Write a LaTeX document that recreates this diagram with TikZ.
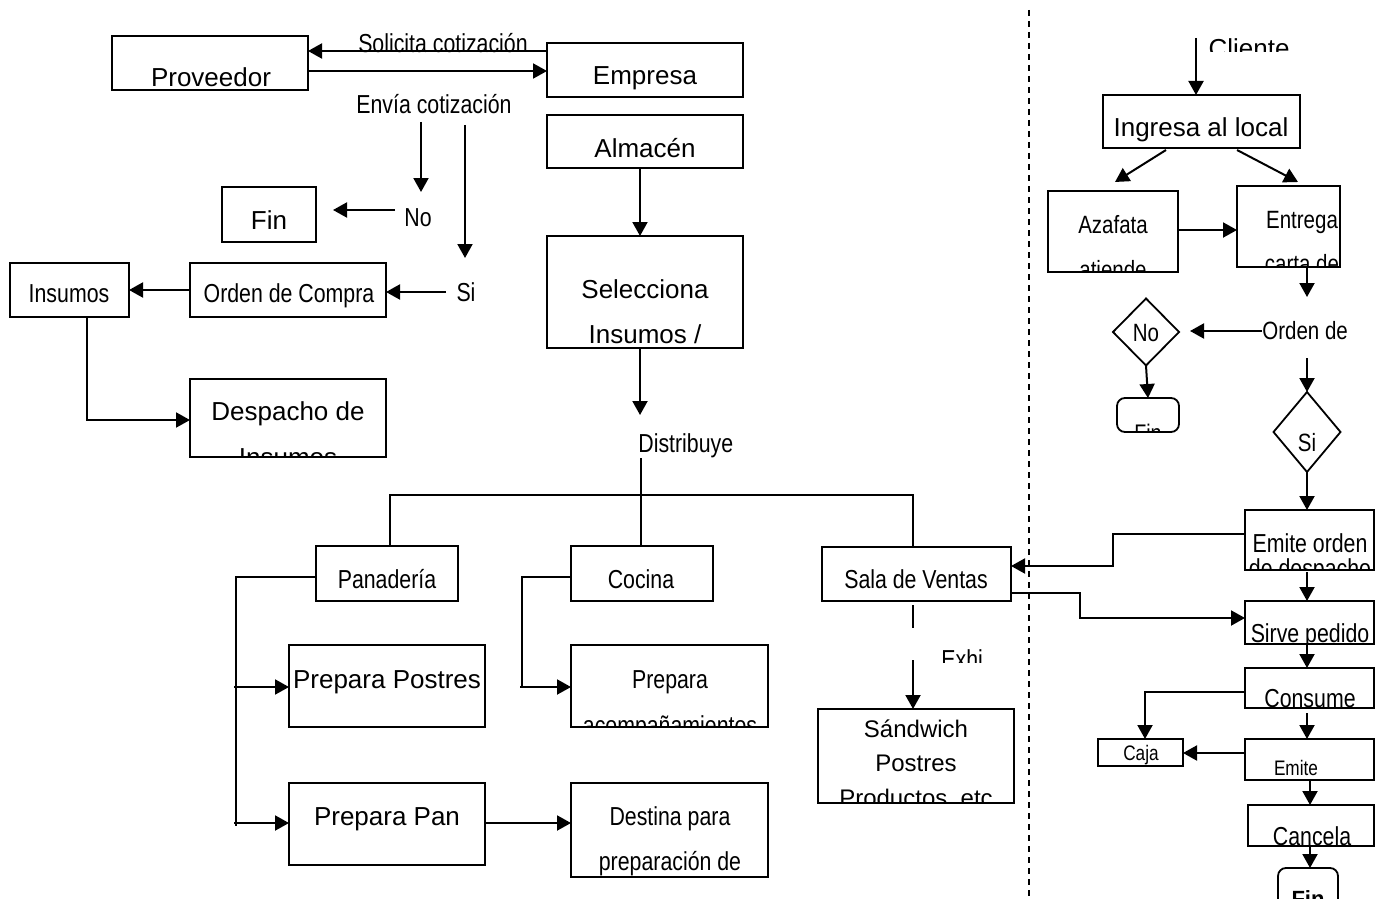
\documentclass[tikz,border=0pt]{standalone}
\usepackage{fontspec}
\setmainfont{Liberation Sans}
\newfontfamily\nar[FakeStretch=0.82]{Liberation Sans}
\usetikzlibrary{arrows.meta,shapes.geometric,calc}
\newcommand\mybox[6][]{\node[box,#1,minimum width={(#5-#3)*0.5pt},minimum height={(#6-#4)*0.5pt}] (#2) at ({(#3+#5)/2},{(#4+#6)/2}) {};}
\begin{document}
\begin{tikzpicture}[x=0.5pt,y=-0.5pt,
  box/.style={draw,line width=0.9pt,inner sep=0pt,outer sep=0pt},
  txt/.style={inner sep=0pt,anchor=base,font=\fontsize{13}{15}\selectfont},
  ntxt/.style={inner sep=0pt,anchor=base,font=\nar\fontsize{13}{15}\selectfont},
  stxt/.style={inner sep=0pt,anchor=base,font=\nar\fontsize{10.5}{12}\selectfont},
  con/.style={line width=1pt},
  arr/.style={line width=1pt,-{Triangle[length=7pt,width=7.5pt]}},
  dia/.style={draw,diamond,line width=0.9pt,inner sep=0pt,outer sep=0pt},
]
\clip (0,0) rectangle (1376,899);
\fill[white] (0,0) rectangle (1376,899);

% ---------- top left ----------
\mybox{prov}{112}{36}{308}{90}
\node[txt] (provt) at (211,87) {Proveedor};
\mybox{emp}{547}{43}{743}{97}
\node[txt] (empt) at (645,85) {Empresa};
\node[ntxt] (sol) at (443,53) {Solicita cotización};
\draw[arr] (emp.west |- 0,51) -- (prov.east |- 0,51);
\draw[arr] (prov.east |- 0,71) -- (emp.west |- 0,71);
\node[ntxt] (env) at (434,113) {Envía cotización};
\coordinate (a1s) at (421,122); \coordinate (a1e) at (421,192);
\draw[arr] (a1s) -- (a1e);
\coordinate (a2s) at (465,125); \coordinate (a2e) at (465,258);
\draw[arr] (a2s) -- (a2e);

\mybox{fin1}{222}{187}{316}{242}
\node[txt] (fin1t) at (269,229) {Fin};
\node[ntxt] (no1) at (418,227) {No};
\coordinate (nos) at (395,210); \coordinate (noe) at (333,210);
\draw[arr] (nos) -- (noe);

\mybox{ins}{10}{263}{129}{317}
\node[ntxt] (inst) at (69,302) {Insumos};
\mybox{oc}{190}{263}{386}{317}
\node[ntxt] (oct) at (289,302) {Orden de Compra};
\node[ntxt] (si1) at (466,301) {Si};
\coordinate (sis) at (446,292);
\draw[arr] (sis) -- (oc.east |- 0,292);
\draw[arr] (oc.west |- 0,290) -- (ins.east |- 0,290);
\mybox{desp}{190}{379}{386}{457}
\node[txt] (despt) at (288,420) {Despacho de};
\begin{scope}
\clip (desp.south west) rectangle (desp.north east);
\node[txt] (despt2) at (288,466) {Insumos};
\end{scope}
\draw[arr] (ins.south -| 87,0) |- (desp.west |- 0,420);

% ---------- centre ----------
\mybox{alm}{547}{115}{743}{168}
\node[txt] (almt) at (645,157) {Almacén};
\mybox{sel}{547}{236}{743}{348}
\node[txt] (selt) at (645,298) {Selecciona};
\begin{scope}
\clip (sel.south west) rectangle (sel.north east);
\node[txt] (selt2) at (645,343) {Insumos /};
\end{scope}
\draw[arr] (alm.south -| 640,0) -- (sel.north -| 640,0);
\coordinate (dise) at (640,415);
\draw[arr] (sel.south -| 640,0) -- (dise);
\node[ntxt,anchor=base west] (dis) at (638,452) {Distribuye};

\mybox{pan}{316}{546}{458}{601}
\node[ntxt] (pant) at (387,588) {Panadería};
\mybox{coc}{571}{546}{713}{601}
\node[ntxt] (coct) at (641,588) {Cocina};
\mybox{sal}{822}{547}{1011}{601}
\node[ntxt] (salt) at (916,588) {Sala de Ventas};
\coordinate (diss) at (641,458);
\draw[con] (diss) -- (coc.north -| 641,0);
\draw[con] (pan.north -| 390,0) -- (390,495) -- (913,495) -- (sal.north -| 913,0);

\mybox{pp}{289}{645}{485}{727}
\node[txt] (ppt) at (387,688) {Prepara Postres};
\mybox{ppan}{289}{783}{485}{865}
\node[txt] (ppant) at (387,825) {Prepara Pan};
\mybox{dest}{571}{783}{768}{877}
\node[ntxt] (destt) at (670,825) {Destina para};
\node[ntxt] (destt2) at (670,870) {preparación de};
\mybox{pa}{571}{645}{768}{727}
\node[ntxt] (pat) at (670,688) {Prepara};
\begin{scope}
\clip (pa.south west) rectangle (pa.north east);
\node[ntxt] (pat2) at (670,734) {acompañamientos};
\end{scope}

\draw[con] (pan.west |- 0,577) -- (236,577) -- (236,826);
\coordinate (b1) at (234,687); \coordinate (b2) at (234,823);
\draw[arr] (b1) -- (pp.west |- 0,687);
\draw[arr] (b2) -- (ppan.west |- 0,823);
\draw[arr] (ppan.east |- 0,823) -- (dest.west |- 0,823);
\draw[con] (coc.west |- 0,577) -- (522,577) -- (522,687);
\coordinate (c1) at (520,687);
\draw[arr] (c1) -- (pa.west |- 0,687);

\mybox{sand}{818}{709}{1014}{803}
\node[txt,font=\fontsize{12}{14}\selectfont] (sandt) at (916,737) {Sándwich};
\node[txt,font=\fontsize{12}{14}\selectfont] (sandt2) at (916,771) {Postres};
\begin{scope}
\clip (sand.south west) rectangle (sand.north east);
\node[txt,font=\fontsize{12}{14}\selectfont] (sandt3) at (916,806) {Productos, etc};
\end{scope}
\coordinate (s1) at (913,605); \coordinate (s2) at (913,628);
\draw[con] (s1) -- (s2);
\coordinate (s3) at (913,660);
\draw[arr] (s3) -- (sand.north -| 913,0);
\begin{scope}
\clip (900,630) rectangle (1000,662);
\node[ntxt,anchor=base west] (exhi) at (941,668) {Exhi};
\end{scope}

% ---------- divider ----------
\draw[line width=0.7pt,dash pattern=on 3pt off 2.5pt] (1029,10) -- (1029,899);

% ---------- right column ----------
\begin{scope}
\clip (1180,30) rectangle (1320,52);
\node[txt] (cli) at (1249,58) {Cliente};
\end{scope}
\mybox{ing}{1103}{95}{1300}{148}
\node[txt] (ingt) at (1201,137) {Ingresa al local};
\coordinate (cls) at (1196,38);
\draw[arr] (cls) -- (ing.north -| 1196,0);

\mybox{aza}{1048}{191}{1178}{272}
\node[ntxt,font=\nar\fontsize{12.5}{14}\selectfont] (azat) at (1113,233) {Azafata};
\begin{scope}
\clip (aza.south west) rectangle (aza.north east);
\node[ntxt,font=\nar\fontsize{12.5}{14}\selectfont] (azat2) at (1113,278) {atiende};
\end{scope}
\mybox{ent}{1237}{186}{1340}{267}
\node[ntxt,font=\nar\fontsize{12.5}{14}\selectfont] (entt) at (1302,228) {Entrega};
\begin{scope}
\clip (ent.south west) rectangle (ent.north east);
\node[ntxt,font=\nar\fontsize{12.5}{14}\selectfont] (entt2) at (1302,272) {carta de};
\end{scope}
\coordinate (i1) at (1166,150); \coordinate (i1e) at (1115,182);
\coordinate (i2) at (1237,150); \coordinate (i2e) at (1298,182);
\draw[arr] (i1) -- (i1e);
\draw[arr] (i2) -- (i2e);
\draw[arr] (aza.east |- 0,230) -- (ent.west |- 0,230);
\coordinate (e1e) at (1307,297);
\draw[arr] (ent.south -| 1307,0) -- (e1e);

\node[ntxt,anchor=base west,font=\nar\fontsize{12.5}{14}\selectfont] (ord) at (1262,339) {Orden de};
\node[dia,minimum width=33pt,minimum height=33.5pt] (dno) at (1146,332) {};
\node[ntxt,font=\nar\fontsize{12.5}{14}\selectfont] (dnot) at (1146,341) {No};
\coordinate (o1e) at (1190,331);
\draw[arr] (ord.west |- 0,331) -- (o1e);
\mybox[rounded corners=4pt]{fin2}{1117}{398}{1179}{432}
\begin{scope}
\clip (fin2.south west) rectangle (fin2.north east);
\node[ntxt,font=\nar\fontsize{12}{14}\selectfont] (fin2t) at (1148,441) {Fin};
\end{scope}
\draw[arr] (dno.south) -- (fin2.north);

\node[dia,minimum width=33.5pt,minimum height=40pt] (dsi) at (1307,432) {};
\node[ntxt,font=\nar\fontsize{12.5}{14}\selectfont] (dsit) at (1307,451) {Si};
\coordinate (o2) at (1307,358);
\draw[arr] (o2) -- (dsi.north);

\mybox{emo}{1245}{510}{1374}{570}
\node[ntxt] (emot) at (1310,552) {Emite orden};
\begin{scope}
\clip (emo.south west) rectangle (emo.north east);
\node[ntxt] (emot2) at (1310,577) {de despacho};
\end{scope}
\draw[arr] (dsi.south) -- (emo.north -| 1307,0);
\draw[arr] (emo.west |- 0,534) -- (1113,534) -- (1113,566) -- (sal.east |- 0,566);

\mybox{sir}{1245}{601}{1374}{644}
\begin{scope}
\clip (sir.south west) rectangle (sir.north east);
\node[ntxt] (sirt) at (1310,642) {Sirve pedido};
\end{scope}
\coordinate (e2) at (1307,572);
\draw[arr] (e2) -- (sir.north -| 1307,0);
\draw[arr] (sal.east |- 0,593) -- (1080,593) -- (1080,618) -- (sir.west |- 0,618);

\mybox{cons}{1245}{668}{1374}{708}
\begin{scope}
\clip (cons.south west) rectangle (cons.north east);
\node[ntxt] (const) at (1310,707) {Consume};
\end{scope}
\draw[arr] (sir.south -| 1307,0) -- (cons.north -| 1307,0);

\mybox{caja}{1098}{739}{1183}{766}
\node[stxt] (cajat) at (1141,760) {Caja};
\mybox{emi}{1245}{739}{1374}{780}
\node[stxt] (emit) at (1296,775) {Emite};
\draw[arr] (cons.west |- 0,692) -| (caja.north -| 1145,0);
\coordinate (c2) at (1307,713);
\draw[arr] (c2) -- (emi.north -| 1307,0);
\draw[arr] (emi.west |- 0,753) -- (caja.east |- 0,753);

\mybox{can}{1248}{805}{1374}{846}
\begin{scope}
\clip (can.south west) rectangle (can.north east);
\node[ntxt] (cant) at (1312,845) {Cancela};
\end{scope}
\draw[arr] (emi.south -| 1310,0) -- (can.north -| 1310,0);

\mybox[rounded corners=4pt]{fin3}{1278}{868}{1338}{915}
\node[txt,font=\bfseries\fontsize{11}{13}\selectfont] (fin3t) at (1308,906) {Fin};
\draw[arr] (can.south -| 1310,0) -- (fin3.north -| 1310,0);
\end{tikzpicture}
\end{document}
